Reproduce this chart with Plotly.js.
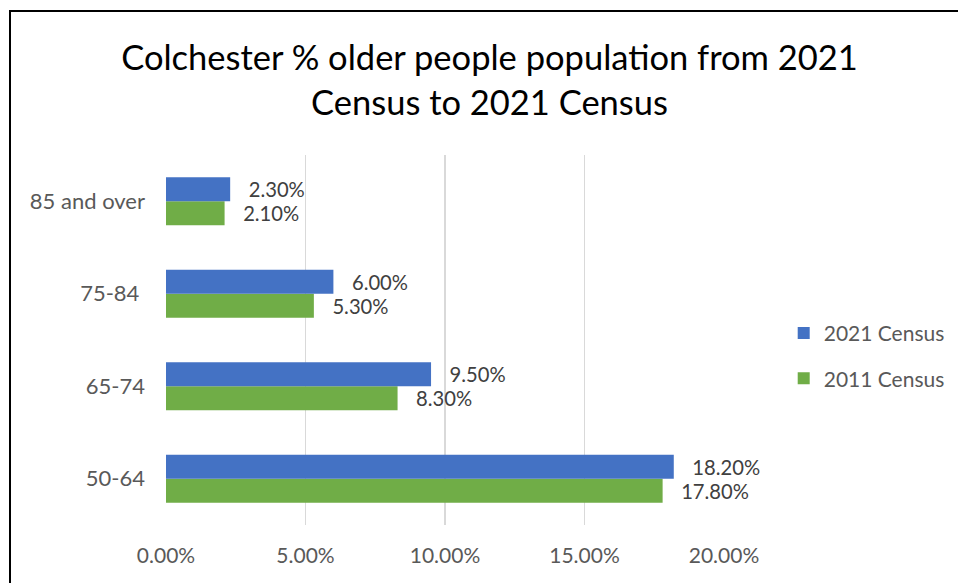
<!DOCTYPE html>
<html>
<head>
<meta charset="utf-8">
<script src="https://cdn.plot.ly/plotly-3.0.1.min.js"></script>
<style>
html,body{margin:0;padding:0;background:#fff;}
#wrap{position:relative;width:958px;height:583px;overflow:hidden;}
#chart{position:absolute;left:0;top:0;width:958px;height:583px;}
#frame{position:absolute;left:9px;top:10px;width:960px;height:600px;border-left:2.5px solid #000;border-top:2.5px solid #000;pointer-events:none;}
</style>
</head>
<body>
<div id="wrap"><div id="chart"></div><div id="frame"></div></div>
<script>
const categories = ['50-64', '65-74', '75-84 ', '85 and over'];
const census2021 = [0.182, 0.095, 0.060, 0.023];
const census2011 = [0.178, 0.083, 0.053, 0.021];
const tickVals = [0, 0.05, 0.10, 0.15, 0.20];
const tickText = ['0.00%', '5.00%', '10.00%', '15.00%', '20.00%'];

const FONT = 'Lato, "Open Sans", sans-serif';
const labelFont = {family: FONT, size: 21, color: '#404040'};

const traces = [
  {
    type: 'bar', orientation: 'h', name: '2011 Census',
    y: categories, x: census2011,
    marker: {color: '#70AD47'},
    texttemplate: '\u00a0\u00a0\u00a0%{x:.2%}', textposition: 'outside',
    textfont: labelFont, cliponaxis: false, hoverinfo: 'none',
    legendrank: 2, legendgroup: 'g2011'
  },
  {
    type: 'bar', orientation: 'h', name: '2021 Census',
    y: categories, x: census2021,
    marker: {color: '#4472C4'},
    texttemplate: '\u00a0\u00a0\u00a0%{x:.2%}', textposition: 'outside',
    textfont: labelFont, cliponaxis: false, hoverinfo: 'none',
    legendrank: 1, legendgroup: 'g2021'
  }
];

const layout = {
  width: 958, height: 583,
  paper_bgcolor: '#fff', plot_bgcolor: '#fff',
  margin: {l: 166, r: 234, t: 155, b: 58, autoexpand: false},
  font: {family: FONT, color: '#595959'},
  title: {
    text: 'Colchester % older people population from 2021<br>Census to 2021 Census',
    font: {family: FONT, size: 34.5, color: '#000'},
    x: 0.511, xref: 'container', xanchor: 'center',
    y: 0.88, yref: 'container', yanchor: 'middle'
  },
  barmode: 'group', bargap: 0.48, bargroupgap: 0,
  xaxis: {
    range: [0, 0.2], tickvals: tickVals, ticktext: tickText,
    showgrid: true, gridcolor: '#d9d9d9', gridwidth: 1.5,
    zeroline: false, showline: false, ticks: '',
    tickfont: {family: FONT, size: 21, color: '#595959'},
    ticklabelstandoff: 16, fixedrange: true, automargin: false
  },
  yaxis: {
    type: 'category', showgrid: false, zeroline: false, showline: false, ticks: '',
    tickfont: {family: FONT, size: 22, color: '#595959'},
    ticklabelstandoff: 20, fixedrange: true, automargin: false
  },
  legend: {
    x: 1.107, xref: 'paper', xanchor: 'left',
    y: 0.457, yanchor: 'middle',
    traceorder: 'grouped', tracegroupgap: 15,
    font: {family: FONT, size: 21, color: '#595959'},
    bgcolor: 'rgba(0,0,0,0)'
  },
  showlegend: true
};

Plotly.newPlot('chart', traces, layout, {displayModeBar: false, staticPlot: true});
</script>
</body>
</html>
